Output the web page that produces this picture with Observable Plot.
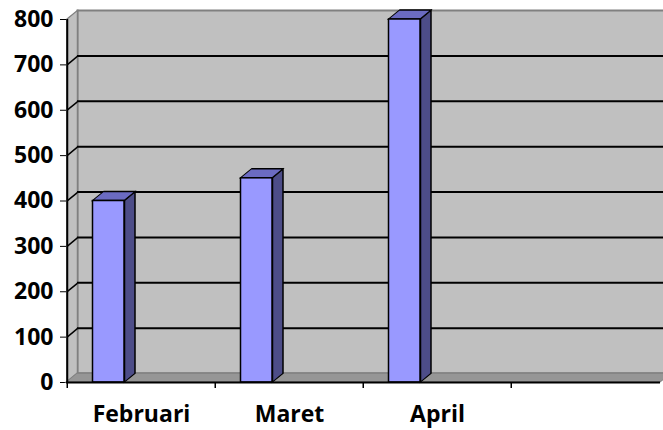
<!DOCTYPE html>
<html><head><meta charset="utf-8">
<script src="https://cdn.jsdelivr.net/npm/d3@7"></script>
<script src="https://cdn.jsdelivr.net/npm/@observablehq/plot@0.6"></script>
<style>body{margin:0;background:#fff}</style>
</head><body><div id="chart"></div>
<script>
const categories = ["Februari", "Maret", "April", ""];
const values = [400, 450, 800, null];
const yTicks = [0, 100, 200, 300, 400, 500, 600, 700, 800];

const W = 663, H = 430, mL = 66, mR = 3, mT = 19, mB = 48;
const depthX = 11, depthY = 9;
const bw = (W - mL - mR) / categories.length;
const barL = 25.5, barW = 32;
const barR = bw - barL - barW;
const kY = -depthY / depthX;   // skewY slope
const kX = -depthX / depthY;   // skewX slope

const data = categories.map((c, i) => ({c, v: values[i]})).filter(d => d.v != null);
const inner = yTicks.slice(1, -1);
const tag = (name) => () => name;

const chart = Plot.plot({
  width: W, height: H, marginLeft: mL, marginRight: mR, marginTop: mT, marginBottom: mB,
  style: {fontFamily: "'Open Sans', sans-serif", fontSize: "23px", fontWeight: "bold", color: "#000", background: "#fff", overflow: "hidden"},
  x: {domain: categories, padding: 0, tickSize: 0, tickPadding: 23, label: null},
  y: {domain: [0, 800], ticks: yTicks, tickSize: 6, tickPadding: 7, label: null, tickFormat: d => String(d)},
  marks: [
    Plot.frame({fill: "#c0c0c0", stroke: "#808080", strokeWidth: 2, dx: depthX, dy: -depthY}),
    Plot.barY([0], {x: () => categories[0], y1: 0, y2: 800, insetLeft: 0, insetRight: bw - depthX, fill: "#c0c0c0", stroke: "#808080", strokeWidth: 1.5, ariaLabel: tag("sidewall")}),
    Plot.barY([0], {y1: 0, y2: 0, insetTop: -depthY, fill: "#969696", stroke: "#808080", strokeWidth: 1.5, ariaLabel: tag("floor")}),
    Plot.ruleY(inner, {dx: depthX, dy: -depthY, stroke: "#000", strokeWidth: 2}),
    Plot.tickY(inner, {x: () => categories[0], y: d => d, insetRight: bw - depthX, stroke: "#000", strokeWidth: 2, ariaLabel: tag("sidegrid")}),
    Plot.barY(data, {x: "c", y1: 0, y2: "v", insetLeft: barL + barW, insetRight: barR - depthX, fill: "#4d4d88", stroke: "#000", strokeWidth: 1.5, ariaLabel: tag("barside")}),
    Plot.barY(data, {x: "c", y1: "v", y2: "v", insetLeft: barL, insetRight: barR, insetTop: -depthY, fill: "#6b6bc2", stroke: "#000", strokeWidth: 1.5, ariaLabel: tag("bartop")}),
    Plot.barY(data, {x: "c", y: "v", insetLeft: barL, insetRight: barR, fill: "#9999ff", stroke: "#000", strokeWidth: 1.5}),
    Plot.ruleY([0], {stroke: "#000", strokeWidth: 2}),
    Plot.ruleX([categories[0]], {y1: 0, y2: 800, dx: -bw / 2, stroke: "#000", strokeWidth: 2}),
    Plot.ruleX(categories, {y1: 0, y2: 0, insetBottom: -6, dx: -bw / 2, stroke: "#000", strokeWidth: 1.5})
  ]
});

function num(el, a) { return +el.getAttribute(a) || 0; }
function els(label) {
  return Array.from(chart.querySelectorAll("rect, line")).filter(e => e.getAttribute("aria-label") === label);
}
// skewY about the left edge of each element
function skewY(label) {
  els(label).forEach(el => {
    const x0 = el.tagName === "line" ? Math.min(num(el, "x1"), num(el, "x2")) : num(el, "x");
    el.setAttribute("transform", `matrix(1,${kY},0,1,0,${-kY * x0})`);
  });
}
// skewX about the bottom edge of each element
function skewX(label) {
  els(label).forEach(el => {
    const y0 = num(el, "y") + num(el, "height");
    el.setAttribute("transform", `matrix(1,0,${kX},1,${-kX * y0},0)`);
  });
}
skewY("sidewall");
skewY("sidegrid");
skewY("barside");
skewX("floor");
skewX("bartop");

document.getElementById("chart").appendChild(chart);
</script>
</body></html>
